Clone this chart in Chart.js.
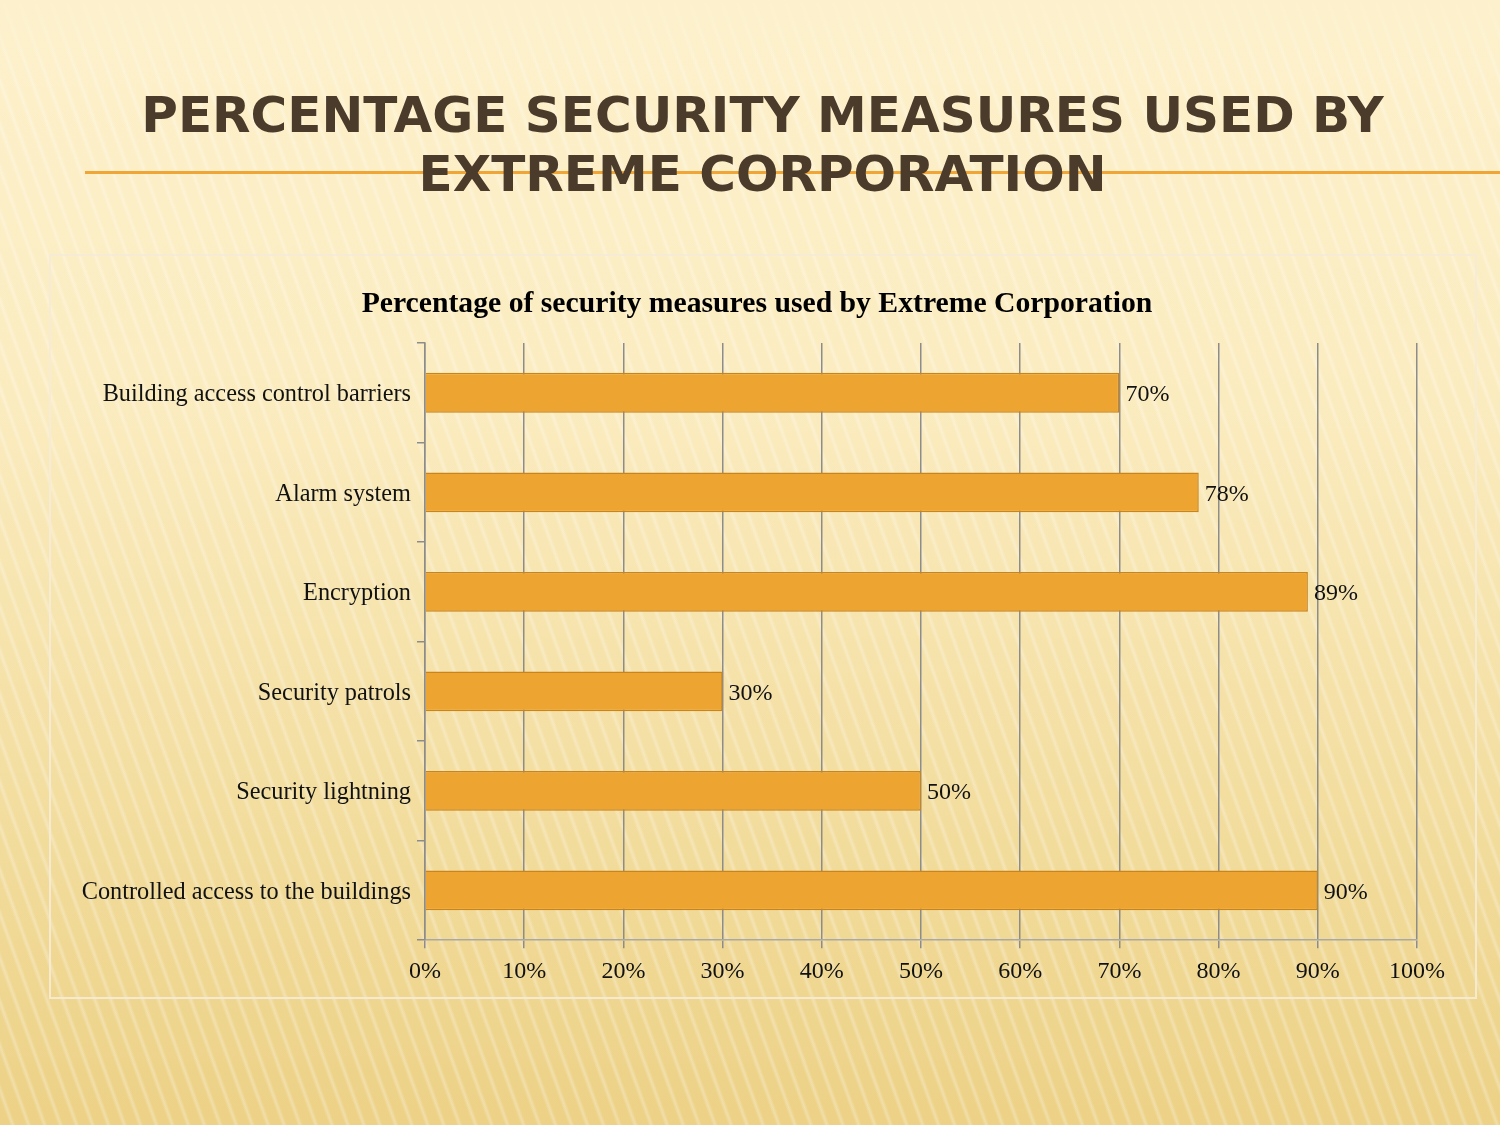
<!DOCTYPE html>
<html>
<head>
<meta charset="utf-8">
<script src="https://cdn.jsdelivr.net/npm/chart.js@4.4.1/dist/chart.umd.min.js"></script>
<style>
  html, body { margin: 0; padding: 0; }
  body {
    width: 1500px; height: 1125px; position: relative; overflow: hidden;
    background:
      linear-gradient(180deg, rgba(253,241,205,1) 0px, rgba(253,241,205,0) 70px),
      repeating-linear-gradient(70deg, rgba(255,255,255,0) 0px, rgba(255,255,255,0) 9px, rgba(255,255,255,0.28) 12px, rgba(255,255,255,0) 15px),
      linear-gradient(180deg, #fdf1cc 0%, #fbecc0 35%, #f2dc9c 75%, #ecd186 100%);
  }
  #title {
    position: absolute; left: 0; top: 86px; width: 1525px; text-align: center;
    font-family: "DejaVu Sans", sans-serif; font-weight: bold; font-size: 50px;
    line-height: 59px; letter-spacing: 0; color: #4b3b2b;
  }
  #rule {
    position: absolute; left: 85px; top: 171px; width: 1415px; height: 3px;
    background: #f0a636;
  }
  #box {
    position: absolute; left: 49px; top: 254px; width: 1424px; height: 741px;
    border: 2px solid rgba(245,235,215,0.9);
  }
  #chart { position: absolute; left: 50px; top: 255px; }
</style>
</head>
<body>
<div id="rule"></div>
<div id="title">PERCENTAGE SECURITY MEASURES USED BY<br>EXTREME CORPORATION</div>
<div id="box"></div>
<canvas id="chart" width="1425" height="742"></canvas>
<script>
const categorias = [
  "Building access control barriers",
  "Alarm system",
  "Encryption",
  "Security patrols",
  "Security lightning",
  "Controlled access to the buildings"
];
const porcentajes = [70, 78, 89, 30, 50, 90];
const tituloGrafico = "Percentage of security measures used by Extreme Corporation";

const serif = "'Liberation Serif', 'Times New Roman', serif";

// etiquetas al final de cada barra + titulo del grafico
const etiquetasBarra = {
  id: "etiquetasBarra",
  afterDatasetsDraw(chart) {
    const ctx = chart.ctx;
    const meta = chart.getDatasetMeta(0);
    ctx.save();
    ctx.font = "24px " + serif;
    ctx.fillStyle = "#111";
    ctx.textBaseline = "middle";
    ctx.textAlign = "left";
    meta.data.forEach((bar, i) => {
      ctx.fillText(porcentajes[i] + "%", bar.x + 6, bar.y + 2);
    });

    // titulo centrado sobre el recuadro, no sobre el area del chart
    ctx.font = "bold 29.7px " + serif;
    ctx.fillStyle = "#000";
    ctx.textAlign = "center";
    ctx.fillText(tituloGrafico, 707, 49);
    ctx.restore();
  }
};

document.addEventListener("DOMContentLoaded", () => {
  const ctx = document.getElementById("chart");

  new Chart(ctx, {
    type: "bar",
    data: {
      labels: categorias,
      datasets: [{
        data: porcentajes,
        backgroundColor: "#eea430",
        borderColor: "#c9841c",
        borderWidth: 1.5,
        barPercentage: 0.4,
        categoryPercentage: 1
      }]
    },
    options: {
      indexAxis: "y",
      responsive: false,
      animation: false,
      layout: { padding: { left: 0, right: 58, top: 88, bottom: 2 } },
      plugins: {
        legend: { display: false },
        tooltip: { enabled: false },
        title: { display: false }
      },
      scales: {
        x: {
          min: 0,
          max: 100,
          ticks: {
            stepSize: 10,
            callback: v => v + "%",
            color: "#111",
            font: { family: serif, size: 24 },
            padding: 9
          },
          grid: { color: "#8c8c8c", lineWidth: 1.5, tickLength: 8 },
          border: { color: "#a8a8a8", width: 1.5 }
        },
        y: {
          afterFit: scale => { scale.width = 375; },
          ticks: {
            color: "#111",
            font: { family: serif, size: 24.3 },
            padding: 6,
            labelOffset: 2
          },
          grid: { drawOnChartArea: false, color: "#8c8c8c", lineWidth: 1.5, tickLength: 8 },
          border: { color: "#8c8c8c", width: 1.5 }
        }
      }
    },
    plugins: [etiquetasBarra]
  });
});
</script>
</body>
</html>
